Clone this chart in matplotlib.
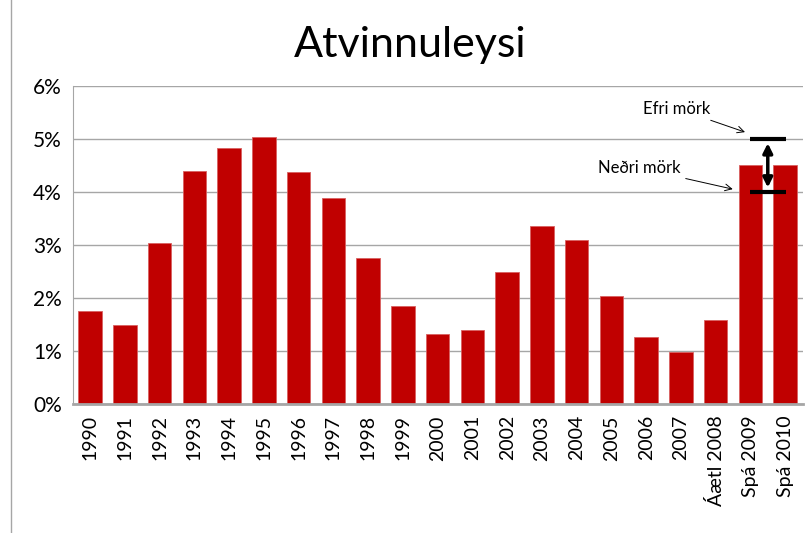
import matplotlib
matplotlib.use("Agg")
import matplotlib.pyplot as plt
from matplotlib.lines import Line2D

years = ["1990", "1991", "1992", "1993", "1994", "1995", "1996", "1997", "1998", "1999",
         "2000", "2001", "2002", "2003", "2004", "2005", "2006", "2007",
         "Áætl 2008", "Spá 2009", "Spá 2010"]
rate = [1.75, 1.49, 3.04, 4.40, 4.83, 5.04, 4.38, 3.89, 2.75, 1.85,
        1.32, 1.40, 2.49, 3.36, 3.09, 2.04, 1.26, 0.98, 1.58, 4.51, 4.51]
upper = 5.0
lower = 4.0
yticks = [0, 1, 2, 3, 4, 5, 6]

plt.rcParams['font.family'] = ['Lato', 'DejaVu Sans']

fig = plt.figure(figsize=(8.09, 5.33), dpi=100)
ax = fig.add_axes([0.090, 0.242, 0.902, 0.597])

x = list(range(len(years)))
ax.bar(x, rate, width=0.68, color="#C00000", edgecolor="#D86060", linewidth=0.6, zorder=2)

ax.set_xlim(-0.5, len(years) - 0.5)
ax.set_ylim(0, 6)
ax.set_yticks(yticks)
ax.set_yticklabels([f"{t}%" for t in yticks], fontsize=15)
ax.set_xticks(x)
ax.set_xticklabels(years, rotation=90, fontsize=14)
ax.tick_params(axis="both", length=0, pad=8)
ax.yaxis.grid(True, color="#A6A6A6", linewidth=1, zorder=0)
ax.set_axisbelow(True)
for s in ["top", "right"]:
    ax.spines[s].set_visible(False)
ax.spines["left"].set_color("#A6A6A6")
ax.spines["bottom"].set_color("#A6A6A6")
ax.spines["bottom"].set_linewidth(2)

# range marker between the forecast bars
xm = 19.5
ax.hlines([upper, lower], xm - 0.52, xm + 0.52, colors="black", linewidth=3, zorder=4)
ax.annotate("", xy=(xm, upper - 0.03), xytext=(xm, lower + 0.03),
            arrowprops=dict(arrowstyle="<|-|>", color="black", lw=2.5, mutation_scale=14), zorder=5)
ax.annotate("Efri mörk", xy=(18.92, 5.11), xytext=(17.85, 5.57),
            fontsize=12, ha="right", va="center",
            arrowprops=dict(arrowstyle="->", color="black", lw=0.7))
ax.annotate("Neðri mörk", xy=(18.57, 4.04), xytext=(16.98, 4.45),
            fontsize=12, ha="right", va="center",
            arrowprops=dict(arrowstyle="->", color="black", lw=0.7))

fig.text(0.507, 0.915, "Atvinnuleysi", ha="center", va="center", fontsize=31)
fig.add_artist(Line2D([0.013, 0.013], [0, 1], color="#A6A6A6", linewidth=1))

fig.savefig("out.png", dpi=100)
